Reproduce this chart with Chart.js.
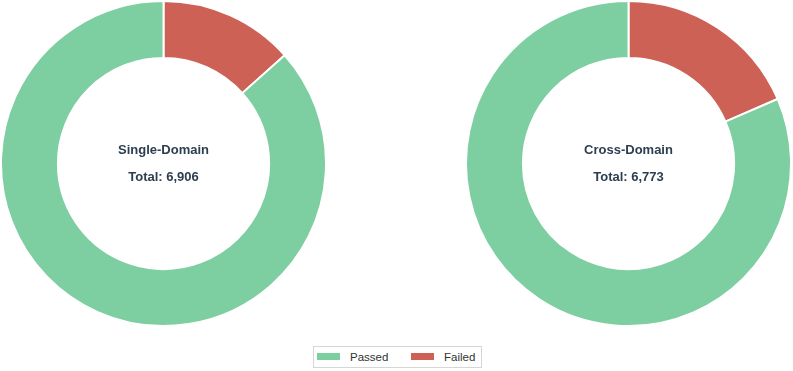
<!DOCTYPE html>
<html>
<head>
<meta charset="utf-8">
<script src="https://cdn.jsdelivr.net/npm/chart.js@4/dist/chart.umd.min.js"></script>
<style>
  html, body { margin: 0; padding: 0; background: #fff; }
  body { width: 793px; height: 371px; position: relative; overflow: hidden; font-family: "Liberation Sans", Arial, sans-serif; }
  .wrap { position: absolute; top: 0; width: 327px; height: 327px; }
  .center { position: absolute; left: 0; width: 327px; text-align: center; color: #2c3e50; font-weight: bold; font-size: 13px; pointer-events: none; }
  .legend { position: absolute; left: 313px; top: 346px; width: 167px; height: 20px; border: 1px solid #d6d6d6; font-size: 11.5px; color: #333; }
  .item { position: absolute; top: 0; height: 20px; line-height: 20px; }
  .sw { position: absolute; top: 6px; width: 23px; height: 7px; }
</style>
</head>
<body>
<div class="wrap" style="left:0"><canvas id="c1"></canvas>
  <div class="center" id="t1a" style="top:142px"></div>
  <div class="center" id="t1b" style="top:169px"></div>
</div>
<div class="wrap" style="left:465px"><canvas id="c2"></canvas>
  <div class="center" id="t2a" style="top:142px"></div>
  <div class="center" id="t2b" style="top:169px"></div>
</div>
<div class="legend" id="legend"></div>
<script>
const categories = ["Failed", "Passed"];
const legendOrder = ["Passed", "Failed"];
const chartTitles = ["Single-Domain", "Cross-Domain"];
const singleDomainValues = [925, 5981];
const crossDomainValues = [1253, 5520];
const colors = { Passed: "#7dcea0", Failed: "#cd6155" };

function makeChart(id, values, title, ta, tb) {
  new Chart(document.getElementById(id), {
    type: 'doughnut',
    data: {
      labels: categories,
      datasets: [{
        data: values,
        backgroundColor: categories.map(c => colors[c]),
        borderColor: '#ffffff',
        borderWidth: 2
      }]
    },
    options: {
      responsive: false,
      animation: false,
      cutout: '65%',
      layout: { padding: 0 },
      plugins: { legend: { display: false }, tooltip: { enabled: false } }
    }
  });
  const total = values.reduce((a, b) => a + b, 0);
  document.getElementById(ta).textContent = title;
  document.getElementById(tb).textContent = 'Total: ' + total.toLocaleString('en-US');
}
const c1 = document.getElementById('c1'); c1.width = 327; c1.height = 327;
const c2 = document.getElementById('c2'); c2.width = 327; c2.height = 327;
makeChart('c1', singleDomainValues, chartTitles[0], 't1a', 't1b');
makeChart('c2', crossDomainValues, chartTitles[1], 't2a', 't2b');

const lg = document.getElementById('legend');
const positions = [{ sw: 3, tx: 36 }, { sw: 97, tx: 130 }];
legendOrder.forEach((name, i) => {
  const sw = document.createElement('div');
  sw.className = 'sw'; sw.style.left = positions[i].sw + 'px'; sw.style.background = colors[name];
  lg.appendChild(sw);
  const it = document.createElement('div');
  it.className = 'item'; it.style.left = positions[i].tx + 'px'; it.textContent = name;
  lg.appendChild(it);
});
</script>
</body>
</html>
